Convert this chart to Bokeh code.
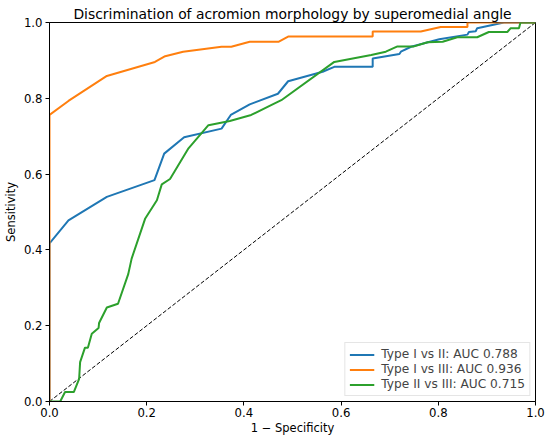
from bokeh.plotting import figure
from bokeh.models import FixedTicker, Range1d, Legend, LegendItem, NumeralTickFormatter
from bokeh.embed import file_html
from bokeh.resources import INLINE

# ---- data ----
fpr_1_2 = [0.0, 0.0, 0.039, 0.118, 0.216, 0.236, 0.277, 0.354, 0.373, 0.412, 0.470, 0.491,
           0.562, 0.586, 0.665, 0.665, 0.720, 0.723, 0.744, 0.802, 0.860, 0.863, 0.877,
           0.880, 0.935, 1.0]
tpr_1_2 = [0.0, 0.417, 0.478, 0.540, 0.584, 0.654, 0.697, 0.720, 0.756, 0.784, 0.812, 0.845,
           0.870, 0.883, 0.883, 0.905, 0.917, 0.923, 0.936, 0.956, 0.968, 0.975, 0.977,
           0.985, 1.0, 1.0]

fpr_1_3 = [0.0, 0.0, 0.039, 0.118, 0.217, 0.238, 0.275, 0.354, 0.374, 0.412, 0.471, 0.491,
           0.665, 0.665, 0.764, 0.805, 0.860, 0.860, 1.0]
tpr_1_3 = [0.0, 0.756, 0.793, 0.859, 0.896, 0.911, 0.923, 0.936, 0.936, 0.949, 0.949, 0.963,
           0.963, 0.976, 0.976, 0.988, 0.988, 1.0, 1.0]

fpr_2_3 = [0.0, 0.022, 0.032, 0.050, 0.061, 0.063, 0.073, 0.079, 0.087, 0.101, 0.102, 0.118,
           0.141, 0.162, 0.169, 0.197, 0.221, 0.231, 0.248, 0.286, 0.327, 0.371, 0.415,
           0.456, 0.477, 0.586, 0.662, 0.692, 0.716, 0.750, 0.778, 0.809, 0.839, 0.880,
           0.904, 0.942, 0.949, 0.966, 0.969, 1.0]
tpr_2_3 = [0.0, 0.0, 0.025, 0.025, 0.060, 0.104, 0.142, 0.142, 0.179, 0.194, 0.207, 0.248,
           0.258, 0.336, 0.377, 0.483, 0.531, 0.573, 0.587, 0.668, 0.729, 0.740, 0.756,
           0.782, 0.795, 0.896, 0.914, 0.923, 0.937, 0.937, 0.948, 0.949, 0.961, 0.961,
           0.975, 0.975, 0.985, 0.985, 1.0, 1.0]

chance = [0.0, 1.0]

labels = ["Type I vs II: AUC 0.788", "Type I vs III: AUC 0.936", "Type II vs III: AUC 0.715"]
colors = ["#1f77b4", "#ff7f0e", "#2ca02c"]
ticks = [0.0, 0.2, 0.4, 0.6, 0.8, 1.0]

title_text = "Discrimination of acromion morphology by superomedial angle"
xlabel = "1 \u2212 Specificity"
ylabel = "Sensitivity"

FONT = "DejaVu Sans"

p = figure(width=550, height=442, output_backend="svg", toolbar_location=None,
           x_range=Range1d(0, 1), y_range=Range1d(0, 1),
           min_border_left=47, min_border_right=15, min_border_top=22, min_border_bottom=41,
           title=title_text)

p.title.text_font = FONT
p.title.text_font_size = "13.9px"
p.title.text_font_style = "normal"
p.title.align = "center"
p.title.standoff = 2
p.title.text_color = "black"

p.grid.visible = False
p.outline_line_color = "black"
p.outline_line_width = 1
p.outline_line_alpha = 1
p.background_fill_color = "white"
p.border_fill_color = "white"

for ax in (p.xaxis[0], p.yaxis[0]):
    ax.ticker = FixedTicker(ticks=ticks)
    ax.formatter = NumeralTickFormatter(format="0.0")
    ax.major_tick_out = 4
    ax.major_tick_in = 0
    ax.minor_tick_out = 0
    ax.minor_tick_in = 0
    ax.major_label_text_font = FONT
    ax.major_label_text_font_size = "11.7px"
    ax.major_label_text_color = "black"
    ax.axis_label_text_font = FONT
    ax.axis_label_text_font_size = "11.5px"
    ax.axis_label_text_font_style = "normal"
    ax.axis_label_text_color = "black"
    ax.axis_line_color = "black"
    ax.major_tick_line_color = "black"
    ax.major_label_standoff = 3

p.xaxis.axis_label = xlabel
p.yaxis.axis_label = ylabel
p.xaxis.major_label_standoff = 2
p.xaxis.axis_label_standoff = 1
p.yaxis.axis_label_standoff = 3

p.line(chance, chance, line_color="black", line_width=1, line_dash="4 2")

r1 = p.line(fpr_1_2, tpr_1_2, line_color=colors[0], line_width=2)
r2 = p.line(fpr_1_3, tpr_1_3, line_color=colors[1], line_width=2)
r3 = p.line(fpr_2_3, tpr_2_3, line_color=colors[2], line_width=2)

legend = Legend(items=[LegendItem(label=labels[0], renderers=[r1]),
                       LegendItem(label=labels[1], renderers=[r2]),
                       LegendItem(label=labels[2], renderers=[r3])],
                location="bottom_right")
legend.label_text_font = FONT
legend.label_text_font_size = "12.2px"
legend.glyph_width = 25
legend.glyph_height = 13
legend.label_height = 13
legend.label_standoff = 7
legend.spacing = 1
legend.padding = 4
legend.margin = 5
legend.border_line_color = "#cccccc"
legend.border_line_width = 1
legend.background_fill_alpha = 0.8
p.add_layout(legend)

open("out.html", "w").write(file_html(p, INLINE))
